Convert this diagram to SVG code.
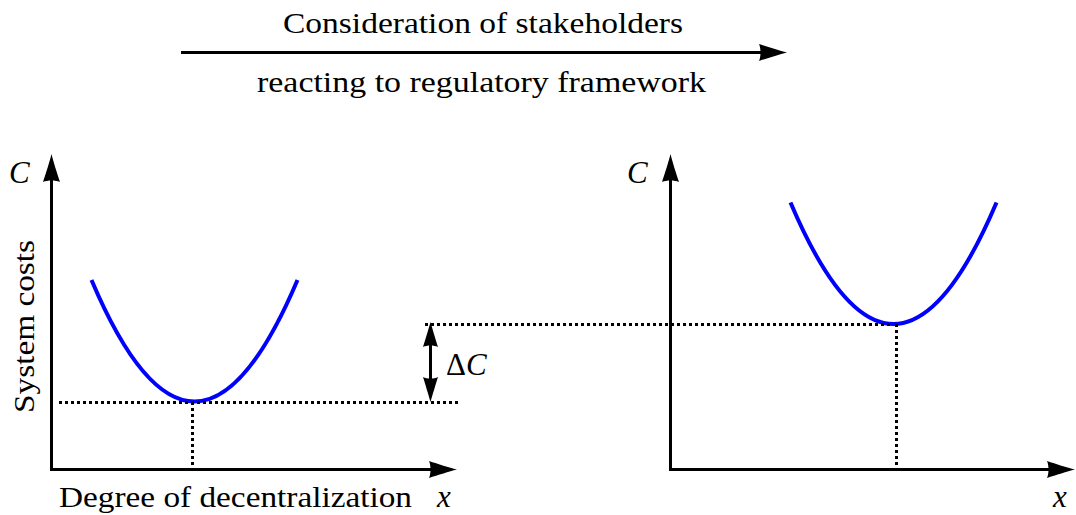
<svg xmlns="http://www.w3.org/2000/svg" width="1076" height="515" viewBox="0 0 1076 515">
  <style>
    text { font-family: "Liberation Serif", "DejaVu Serif", serif; fill: #000; }
    .txt { font-size: 30px; }
    .math { font-size: 31px; font-style: italic; }
    .axis { fill: none; stroke: #000; stroke-width: 3; stroke-linejoin: miter; }
    .guide { fill: none; stroke: #000; stroke-width: 3; stroke-dasharray: 3 3; }
    .cost { fill: none; stroke: #0000ff; stroke-width: 4; stroke-linecap: butt; }
  </style>
  <defs>
    <!-- LaTeX-style arrowhead, tip 12px beyond the line end -->
    <marker id="head" viewBox="-30 -10 32 20" refX="-12" refY="0" markerWidth="32" markerHeight="20" markerUnits="userSpaceOnUse" orient="auto-start-reverse">
      <path d="M0,0 C-8,-2 -19,-5.5 -28,-8.5 C-26,-4 -26,4 -28,8.5 C-19,5.5 -8,2 0,0 Z" fill="#000"/>
    </marker>
    <marker id="head-s" viewBox="-30 -10 32 20" refX="-12" refY="0" markerWidth="32" markerHeight="20" markerUnits="userSpaceOnUse" orient="auto-start-reverse">
      <path d="M0,0 C-7,-2 -17,-5 -25,-7.5 C-23,-3.5 -23,3.5 -25,7.5 C-17,5 -7,2 0,0 Z" fill="#000"/>
    </marker>
  </defs>

  <!-- heading arrow with its two captions -->
  <g id="heading">
    <text class="txt" x="283" y="33" textLength="400" lengthAdjust="spacingAndGlyphs">Consideration of stakeholders</text>
    <text class="txt" x="257" y="92" textLength="449" lengthAdjust="spacingAndGlyphs">reacting to regulatory framework</text>
  </g>

  <!-- left chart -->
  <g id="left-chart">
    <text class="math" x="9" y="183">C</text>
    <text class="txt" transform="translate(34,413) rotate(-90)" textLength="173" lengthAdjust="spacingAndGlyphs">System costs</text>
    <text class="txt" x="59" y="507" textLength="353" lengthAdjust="spacingAndGlyphs">Degree of decentralization</text>
    <text class="math" x="437" y="507">x</text>
    <path class="cost" d="M91.5,280 Q194.5,523 297.5,280"/>
  </g>

  <!-- right chart -->
  <g id="right-chart">
    <text class="math" x="627" y="183">C</text>
    <text class="math" x="1053" y="507">x</text>
    <path class="cost" d="M790.5,202.5 Q893.5,445.5 996.5,202.5"/>
  </g>

  <!-- cost difference label -->
  <g id="delta-label">
    <text class="txt" x="446" y="375" style="font-size:31px">Δ<tspan font-style="italic">C</tspan></text>
  </g>

  <!-- axes, arrows and dotted guide lines -->
  <g id="connectors">
    <path class="axis" d="M181,52.5 H775" marker-end="url(#head)"/>
    <path class="axis" d="M51.5,166 V469.5 H445" marker-start="url(#head)" marker-end="url(#head)"/>
    <path class="axis" d="M670.5,166 V469.5 H1063" marker-start="url(#head)" marker-end="url(#head)"/>
    <path class="axis" d="M430.5,334 V390" marker-start="url(#head-s)" marker-end="url(#head-s)"/>
    <path class="guide" d="M59,402.5 H460"/>
    <path class="guide" d="M192.5,402 V469"/>
    <path class="guide" d="M425,324.5 H893"/>
    <path class="guide" d="M896.5,324 V469"/>
  </g>
</svg>
